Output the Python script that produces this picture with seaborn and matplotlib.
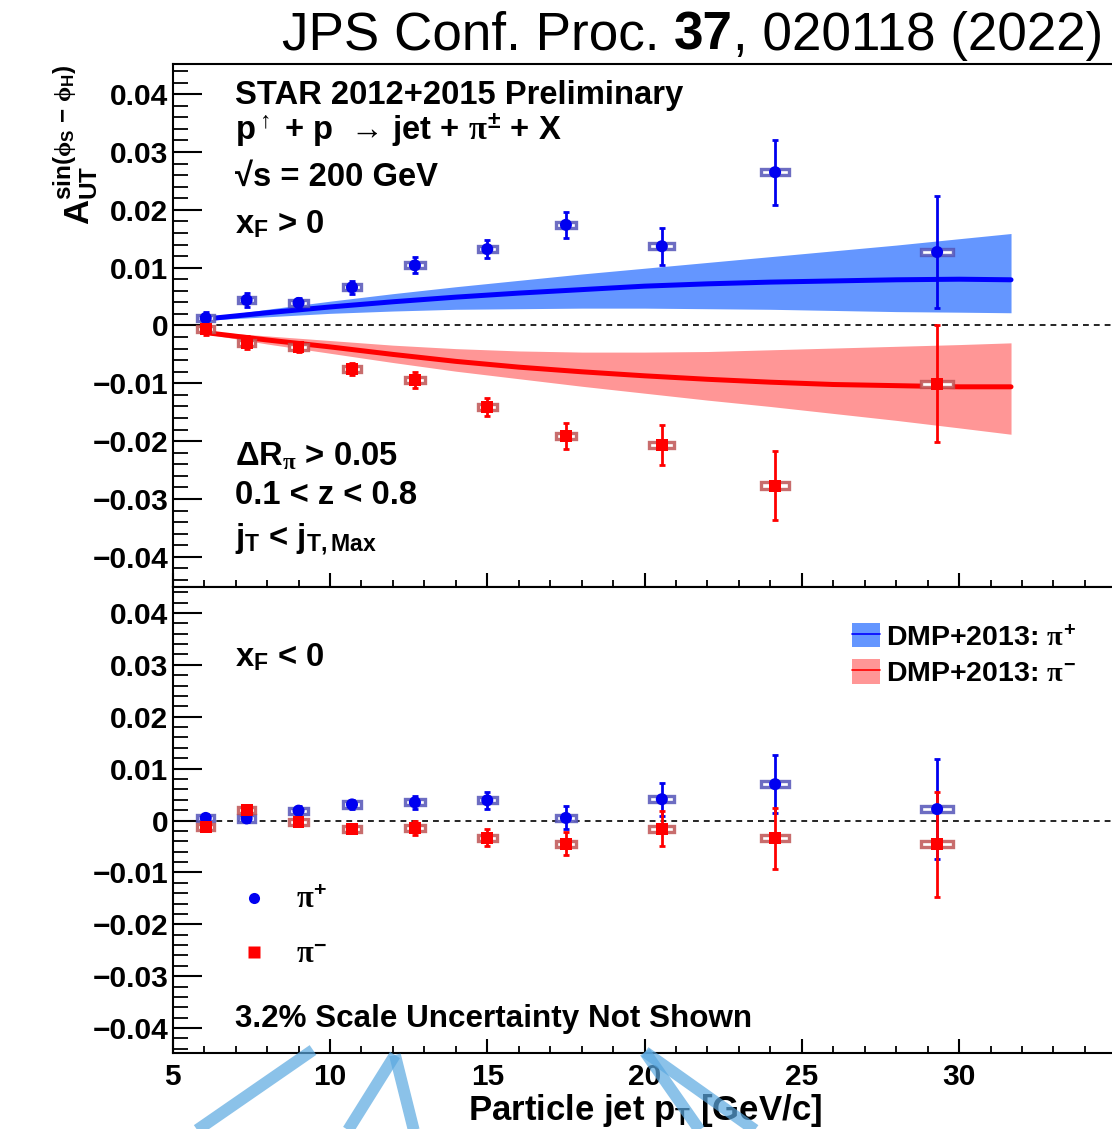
import numpy as np
import pandas as pd
import matplotlib
matplotlib.use("Agg")
import matplotlib.pyplot as plt
import seaborn as sns
from matplotlib.patches import Rectangle, Patch
from matplotlib.lines import Line2D
from matplotlib.ticker import MultipleLocator
from matplotlib.legend_handler import HandlerTuple

# ---------------- data ----------------
jet_pt = [6.05, 7.35, 9.0, 10.7, 12.7, 15.0, 17.5, 20.55, 24.15, 29.3]
box_halfwidth = [0.27, 0.28, 0.30, 0.30, 0.31, 0.31, 0.33, 0.40, 0.45, 0.52]

# x_F > 0
up_pip = [0.0013, 0.0044, 0.0039, 0.0066, 0.0104, 0.0132, 0.0174, 0.0137, 0.0265, 0.0127]
up_pip_err = [0.0010, 0.0012, 0.0008, 0.0011, 0.0014, 0.0016, 0.0022, 0.0032, 0.0056, 0.0097]
up_pip_sys = [0.0005, 0.0005, 0.0005, 0.0005, 0.0005, 0.0005, 0.0005, 0.0005, 0.0005, 0.0005]
up_pim = [-0.0006, -0.0030, -0.0037, -0.0075, -0.0094, -0.0141, -0.0191, -0.0207, -0.0277, -0.0101]
up_pim_err = [0.0010, 0.0011, 0.0009, 0.0010, 0.0014, 0.0016, 0.0023, 0.0035, 0.0060, 0.0101]
up_pim_sys = [0.0005, 0.0005, 0.0005, 0.0005, 0.0005, 0.0005, 0.0005, 0.0005, 0.0006, 0.0005]

# x_F < 0
lo_pip = [0.0005, 0.0004, 0.0019, 0.0031, 0.0035, 0.0039, 0.0005, 0.0041, 0.0070, 0.0022]
lo_pip_err = [0.0008, 0.0007, 0.0009, 0.0009, 0.0013, 0.0016, 0.0022, 0.0032, 0.0056, 0.0096]
lo_pip_sys = [0.0006, 0.0006, 0.0006, 0.0006, 0.0006, 0.0006, 0.0006, 0.0006, 0.0006, 0.0006]
lo_pim = [-0.0013, 0.0020, -0.0003, -0.0016, -0.0014, -0.0033, -0.0045, -0.0016, -0.0034, -0.0046]
lo_pim_err = [0.0008, 0.0008, 0.0008, 0.0007, 0.0014, 0.0017, 0.0022, 0.0034, 0.0059, 0.0101]
lo_pim_sys = [0.0006, 0.0006, 0.0006, 0.0006, 0.0006, 0.0006, 0.0006, 0.0006, 0.0006, 0.0006]

# DMP+2013 theory (x_F > 0)
th_pt = [6, 8, 10, 12, 14, 16, 18, 20, 22, 24, 26, 28, 30, 31.65]
th_pip = [0.0011, 0.0022, 0.0032, 0.0041, 0.0049, 0.0056, 0.0062, 0.0068, 0.0072, 0.0075, 0.0077, 0.0079, 0.0080, 0.0079]
th_pip_hi = [0.0013, 0.0028, 0.0042, 0.0055, 0.0067, 0.0078, 0.0089, 0.0099, 0.0109, 0.0119, 0.0129, 0.0139, 0.0150, 0.0159]
th_pip_lo = [0.0009, 0.0015, 0.0021, 0.0025, 0.0028, 0.0029, 0.0030, 0.0030, 0.0029, 0.0028, 0.0026, 0.0024, 0.0023, 0.0022]
th_pim = [-0.0012, -0.0025, -0.0037, -0.0050, -0.0062, -0.0072, -0.0080, -0.0087, -0.0093, -0.0098, -0.0102, -0.0104, -0.0106, -0.0106]
th_pim_hi = [-0.0010, -0.0018, -0.0026, -0.0034, -0.0040, -0.0044, -0.0046, -0.0046, -0.0045, -0.0042, -0.0039, -0.0036, -0.0033, -0.0030]
th_pim_lo = [-0.0014, -0.0032, -0.0048, -0.0064, -0.0079, -0.0092, -0.0105, -0.0117, -0.0129, -0.0140, -0.0152, -0.0164, -0.0177, -0.0188]

x_ticks = [5, 10, 15, 20, 25, 30]
x_ticklabels = ["5", "10", "15", "20", "25", "30"]
y_ticks = [-0.04, -0.03, -0.02, -0.01, 0.0, 0.01, 0.02, 0.03, 0.04]
y_ticklabels = ["\u22120.04", "\u22120.03", "\u22120.02", "\u22120.01", "0", "0.01", "0.02", "0.03", "0.04"]

# ---------------- style ----------------
sns.set_style("ticks")
plt.rcParams["font.family"] = ["Liberation Sans", "DejaVu Sans"]
plt.rcParams["font.weight"] = "bold"
plt.rcParams["mathtext.fontset"] = "custom"
plt.rcParams["mathtext.rm"] = "Liberation Sans:bold"
plt.rcParams["mathtext.bf"] = "Liberation Sans:bold"
plt.rcParams["mathtext.sf"] = "Liberation Sans:bold"
plt.rcParams["mathtext.it"] = "Liberation Serif"
plt.rcParams["axes.linewidth"] = 1.5
for key in ["text.color", "axes.labelcolor", "xtick.color", "ytick.color", "axes.edgecolor"]:
    plt.rcParams[key] = "black"

BLUE = "#0000f0"
RED = "#ff0000"
BAND_BLUE = "#6496ff"
BAND_RED = "#ff9696"
BOX_BLUE = (0.33, 0.33, 0.72, 0.85)
BOX_RED = (0.75, 0.33, 0.33, 0.85)

fig = plt.figure(figsize=(11.12, 11.29), dpi=100)
L = 0.1553
ax1 = fig.add_axes([L, 0.4801, 1 - L, 0.9433 - 0.4801])
ax2 = fig.add_axes([L, 0.0673, 1 - L, 0.4801 - 0.0673])

XMIN, XMAX = 5, 34.86


def style_axes(ax, ylim, show_xlabels):
    ax.set_xlim(XMIN, XMAX)
    ax.set_ylim(*ylim)
    ax.set_xticks(x_ticks, x_ticklabels if show_xlabels else [""] * len(x_ticks),
                  fontsize=21.5, fontweight="bold")
    ax.set_yticks(y_ticks, y_ticklabels, fontsize=21.5, fontweight="bold")
    ax.xaxis.set_minor_locator(MultipleLocator(1))
    ax.yaxis.set_minor_locator(MultipleLocator(0.002))
    ax.tick_params(axis="y", which="major", direction="in", length=21, width=1.5, pad=3,
                   left=True, right=False)
    ax.tick_params(axis="y", which="minor", direction="in", length=11, width=1.3,
                   left=True, right=False)
    ax.tick_params(axis="x", which="major", direction="in", length=10, width=1.5, pad=7,
                   bottom=True, top=False)
    ax.tick_params(axis="x", which="minor", direction="in", length=5, width=1.3,
                   bottom=True, top=False)
    ax.spines["right"].set_visible(False)
    ax.axhline(0, color="black", lw=1.2, ls=(0, (3.5, 3)), zorder=2)


def draw_points(ax, y, err, sys, color, boxcolor, marker, size):
    for xi, yi, hw, si in zip(jet_pt, y, box_halfwidth, sys):
        ax.add_patch(Rectangle((xi - hw, yi - si), 2 * hw, 2 * si, facecolor="white",
                               edgecolor=boxcolor, lw=2.4, zorder=3))
    ax.errorbar(jet_pt, y, yerr=err, fmt="none", ecolor=color, elinewidth=2.0,
                capsize=2.2, capthick=2.0, zorder=4)
    df = pd.DataFrame({"pt": jet_pt, "A": y})
    sns.scatterplot(data=df, x="pt", y="A", marker=marker, s=size, color=color,
                    edgecolor="none", linewidth=0, ax=ax, zorder=5, legend=False)


# ---------------- upper panel: x_F > 0 ----------------
ax1.fill_between(th_pt, th_pip_lo, th_pip_hi, color=BAND_BLUE, lw=0, zorder=1)
ax1.fill_between(th_pt, th_pim_lo, th_pim_hi, color=BAND_RED, lw=0, zorder=1)
th_df = pd.DataFrame({"pt": th_pt, "pip": th_pip, "pim": th_pim})
sns.lineplot(data=th_df, x="pt", y="pip", color="blue", lw=3.6, ax=ax1, zorder=2.2, legend=False)
sns.lineplot(data=th_df, x="pt", y="pim", color="red", lw=3.6, ax=ax1, zorder=2.2, legend=False)
draw_points(ax1, up_pip, up_pip_err, up_pip_sys, BLUE, BOX_BLUE, "o", 75)
draw_points(ax1, up_pim, up_pim_err, up_pim_sys, RED, BOX_RED, "s", 72)
style_axes(ax1, (-0.0452, 0.0452), False)
ax1.set_xlabel("")

# ---------------- lower panel: x_F < 0 ----------------
draw_points(ax2, lo_pip, lo_pip_err, lo_pip_sys, BLUE, BOX_BLUE, "o", 75)
draw_points(ax2, lo_pim, lo_pim_err, lo_pim_sys, RED, BOX_RED, "s", 72)
style_axes(ax2, (-0.0448, 0.0450), True)
ax2.set_ylabel("")

# axis labels
ax2.set_xlabel(r"Particle jet p$_{\mathbf{T}}$ [GeV/c]", fontsize=25, fontweight="bold",
               va="baseline")
ax2.xaxis.set_label_coords(0.503, (1053 - 1120) / 466.0)
ax1.set_ylabel(r"$\mathbf{A}_{\mathbf{UT}}^{\mathbf{sin}(\phi_{\mathbf{S}}\ \mathbf{-}\ \phi_{\mathbf{H}})}$",
               fontsize=25, rotation=90, rotation_mode="anchor", ha="right", va="baseline")
ax1.yaxis.set_label_coords((90 - 172.7) / 939.3, (587 - 65) / 523.0)

# ---------------- annotations ----------------
TX = (235 - 172.7) / 939.3
kw = dict(transform=ax1.transAxes, fontsize=23.6, fontweight="bold", ha="left", va="baseline")
ax1.text(TX, 0.923, "STAR 2012+2015 Preliminary", **kw)
ax1.text(TX, 0.855, "p$^{\\uparrow}$ + p  \u2192 jet + $\\pi^{\\pm}$ + X", **kw)
ax1.text(TX, 0.767, "\u221as = 200 GeV", **kw)
ax1.text(TX, 0.677, r"x$_{\mathbf{F}}$ > 0", **kw)
ax1.text(TX, 0.233, r"$\Delta$R$_{\pi}$ > 0.05", **kw)
ax1.text(TX, 0.159, "0.1 < z < 0.8", **kw)
ax1.text(TX, 0.0746, r"j$_{\mathbf{T}}$ < j$_{\mathbf{T,Max}}$", **kw)

kw2 = dict(kw, transform=ax2.transAxes)
ax2.text(TX, 0.830, r"x$_{\mathbf{F}}$ < 0", **kw2)
ax2.text(TX, 0.0565, "3.2% Scale Uncertainty Not Shown", **dict(kw2, fontsize=22.6))

# theory legend
h_b = (Patch(facecolor=BAND_BLUE, edgecolor="none"), Line2D([], [], color="blue", lw=1.2))
h_r = (Patch(facecolor=BAND_RED, edgecolor="none"), Line2D([], [], color="red", lw=1.2))
leg1 = ax2.legend([h_b, h_r], [r"DMP+2013: $\pi^{+}$", r"DMP+2013: $\pi^{-}$"],
                  handler_map={tuple: HandlerTuple(ndivide=1)}, loc="center left",
                  bbox_to_anchor=((852 - 172.7) / 939.3, (1053 - 655) / 466.0),
                  frameon=False, prop={"size": 20.5, "weight": "bold"}, handlelength=1.0,
                  handleheight=0.95, handletextpad=0.2, labelspacing=0.3, borderpad=0,
                  borderaxespad=0)
ax2.add_artist(leg1)

# data legend
h_pp = Line2D([], [], ls="none", marker="o", color=BLUE, ms=8, mec="none")
h_pm = Line2D([], [], ls="none", marker="s", color=RED, ms=8, mec="none")
ax2.legend([h_pp, h_pm], [r"$\pi^{+}$", r"$\pi^{-}$"], loc="center left",
           bbox_to_anchor=((239 - 172.7) / 939.3, (1053 - 927.5) / 466.0),
           frameon=False, prop={"size": 22, "weight": "bold"}, handlelength=1.0,
           handletextpad=0.86, labelspacing=0.8, borderpad=0, borderaxespad=0)

# journal header
W, H = 1112.0, 1129.0
t1 = fig.text(1103 / W, 1 - 50 / H, ", 020118 (2022)", fontsize=38.2, fontweight="normal",
              ha="right", va="baseline")
t2 = ax1.annotate("37", xy=(0, 0), xycoords=t1, fontsize=38.2, fontweight="bold",
                  ha="right", va="bottom", annotation_clip=False)
t3 = ax1.annotate("JPS Conf. Proc. ", xy=(0, 0), xycoords=t2, fontsize=38.2,
                  fontweight="normal", ha="right", va="bottom", annotation_clip=False)

# hand-drawn pointer strokes over the x axis
strokes = [((313, 1050), (190, 1135)), ((395, 1055), (345, 1135)), ((395, 1055), (415, 1135)),
           ((645, 1052), (703, 1135)), ((645, 1052), (762, 1135))]
for (xa, ya), (xb, yb) in strokes:
    fig.add_artist(Line2D([xa / W, xb / W], [1 - ya / H, 1 - yb / H], transform=fig.transFigure,
                          color="#5aa8e0", alpha=0.7, lw=8.5, solid_capstyle="butt", zorder=10))

fig.savefig("out.png", dpi=100)
